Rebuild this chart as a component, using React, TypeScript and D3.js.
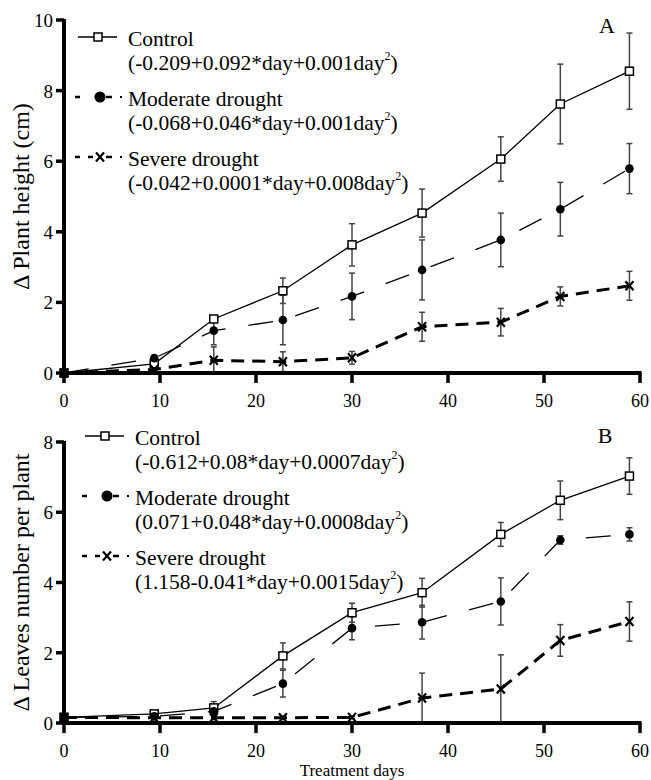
import React from "react";
import * as d3 from "d3";

const days = [0, 9.4, 15.6, 22.8, 30, 37.3, 45.5, 51.7, 58.9];

const heightControl = [0, 0.26, 1.53, 2.33, 3.63, 4.53, 6.06, 7.62, 8.55];
const heightControlErr = [0, 0.05, 0.06, 0.36, 0.6, 0.68, 0.63, 1.13, 1.08];
const heightModerate = [0, 0.42, 1.2, 1.5, 2.17, 2.92, 3.77, 4.64, 5.79];
const heightModerateErr = [0, 0.08, 0.4, 0.7, 0.66, 0.85, 0.76, 0.76, 0.71];
const heightSevere = [0, 0.1, 0.36, 0.32, 0.43, 1.31, 1.44, 2.17, 2.47];
const heightSevereErr = [0, 0.03, 0.38, 0.28, 0.18, 0.41, 0.39, 0.27, 0.41];

const leavesControl = [0.16, 0.26, 0.43, 1.91, 3.14, 3.71, 5.37, 6.34, 7.03];
const leavesControlErr = [0, 0.08, 0.18, 0.37, 0.27, 0.41, 0.34, 0.55, 0.52];
const leavesModerate = [0.16, 0.19, 0.33, 1.12, 2.7, 2.87, 3.46, 5.21, 5.37];
const leavesModerateErr = [0, 0.05, 0.1, 0.38, 0.33, 0.48, 0.67, 0.12, 0.19];
const leavesSevere = [0.16, 0.15, 0.15, 0.15, 0.16, 0.71, 0.97, 2.35, 2.89];
const leavesSevereErr = [0, 0, 0.05, 0.05, 0.03, 0.71, 0.97, 0.45, 0.56];

const xTicks = [0, 10, 20, 30, 40, 50, 60];
const heightTicks = [0, 2, 4, 6, 8, 10];
const leavesTicks = [0, 2, 4, 6, 8];

const seriesNames = ["Control", "Moderate drought", "Severe drought"];
const heightFormulas = [
  ["(-0.209+0.092*day+0.001day", ")"],
  ["(-0.068+0.046*day+0.001day", ")"],
  ["(-0.042+0.0001*day+0.008day", ")"],
];
const leavesFormulas = [
  ["(-0.612+0.08*day+0.0007day", ")"],
  ["(0.071+0.048*day+0.0008day", ")"],
  ["(1.158-0.041*day+0.0015day", ")"],
];

const FONT = "Liberation Serif, Times New Roman, serif";
const T = { fontFamily: FONT };

type Series = { kind: "control" | "moderate" | "severe"; values: number[]; err: number[] };

function Marker({ kind, x, y }: { kind: string; x: number; y: number }) {
  if (kind === "control")
    return <rect x={x - 4} y={y - 4} width={8} height={8} fill="white" stroke="black" strokeWidth={1.5} />;
  if (kind === "moderate") return <circle cx={x} cy={y} r={4.3} fill="black" />;
  return (
    <g stroke="black" strokeWidth={2.2}>
      <line x1={x - 4} y1={y - 4.5} x2={x + 4} y2={y + 4.5} />
      <line x1={x - 4} y1={y + 4.5} x2={x + 4} y2={y - 4.5} />
    </g>
  );
}

const lineStyle: Record<string, any> = {
  control: { strokeWidth: 1.3, dash: undefined },
  moderate: { strokeWidth: 1.3, dash: "25 23" },
  severe: { strokeWidth: 3, dash: "13 8" },
};

function LegendSymbol({ kind, x, y }: { kind: string; x: number; y: number }) {
  if (kind === "control")
    return (
      <g>
        <line x1={x} y1={y} x2={x + 39} y2={y} stroke="black" strokeWidth={1.3} />
        <Marker kind="control" x={x + 20} y={y} />
      </g>
    );
  if (kind === "moderate")
    return (
      <g stroke="black" strokeWidth={2.5}>
        <line x1={x - 3} y1={y} x2={x + 2} y2={y} />
        <Marker kind="moderate" x={x + 22} y={y} />
        <line x1={x + 28} y1={y} x2={x + 34} y2={y} />
        <line x1={x + 42} y1={y} x2={x + 44} y2={y} strokeWidth={2} />
      </g>
    );
  return (
    <g stroke="black" strokeWidth={2.5}>
      <line x1={x - 3} y1={y} x2={x + 2} y2={y} />
      <line x1={x + 10} y1={y} x2={x + 15} y2={y} />
      <Marker kind="severe" x={x + 22} y={y} />
      <line x1={x + 28} y1={y} x2={x + 34} y2={y} />
      <line x1={x + 42} y1={y} x2={x + 44} y2={y} strokeWidth={2} />
    </g>
  );
}

function Panel({
  series,
  yMax,
  yTicks,
  yTop,
  yBottom,
  yTitle,
  label,
  labelX,
  labelY,
  formulas,
  legendX,
  legendY,
  showXTitle,
}: {
  series: Series[];
  yMax: number;
  yTicks: number[];
  yTop: number;
  yBottom: number;
  yTitle: string;
  label: string;
  labelX: number;
  labelY: number;
  formulas: string[][];
  legendX: number;
  legendY: number;
  showXTitle: boolean;
}) {
  const x = d3.scaleLinear().domain([0, 60]).range([64, 640]);
  const y = d3.scaleLinear().domain([0, yMax]).range([yBottom, yTop]);
  const line = d3
    .line<number>()
    .x((_, i) => x(days[i]))
    .y((v) => y(v));
  return (
    <g style={T}>
      {series.map((s) =>
        s.values.map((v, i) =>
          s.err[i] > 0 ? (
            <g key={s.kind + "e" + i} stroke="#444" strokeWidth={1.5}>
              <line x1={x(days[i])} x2={x(days[i])} y1={y(v + s.err[i])} y2={y(Math.max(0, v - s.err[i]))} />
              <line x1={x(days[i]) - 3} x2={x(days[i]) + 3} y1={y(v + s.err[i])} y2={y(v + s.err[i])} />
              <line
                x1={x(days[i]) - 3}
                x2={x(days[i]) + 3}
                y1={y(Math.max(0, v - s.err[i]))}
                y2={y(Math.max(0, v - s.err[i]))}
              />
            </g>
          ) : null
        )
      )}
      {series.map((s) => (
        <path
          key={s.kind}
          d={line(s.values) || ""}
          fill="none"
          stroke="black"
          strokeWidth={lineStyle[s.kind].strokeWidth}
          strokeDasharray={lineStyle[s.kind].dash}
        />
      ))}
      {series.map((s) =>
        s.values.map((v, i) => <Marker key={s.kind + "m" + i} kind={s.kind} x={x(days[i])} y={y(v)} />)
      )}
      <line x1={x(0)} x2={x(60) + 1.5} y1={y(0)} y2={y(0)} stroke="black" strokeWidth={4} />
      <line x1={x(0)} x2={x(0)} y1={y(0) + 2} y2={y(yMax) - 1} stroke="black" strokeWidth={4} />
      {xTicks.map((t) => (
        <g key={"xt" + t}>
          <line x1={x(t)} x2={x(t)} y1={y(0)} y2={y(0) + 10} stroke="black" strokeWidth={3.5} />
          <text x={x(t)} y={y(0) + 34} textAnchor="middle" fontSize={18} style={T}>
            {t}
          </text>
        </g>
      ))}
      {yTicks.map((t) => (
        <g key={"yt" + t}>
          <line x1={x(0) - 8} x2={x(0)} y1={y(t)} y2={y(t)} stroke="black" strokeWidth={3.5} />
          <text x={x(0) - 11} y={y(t) + 7} textAnchor="end" fontSize={19} style={T}>
            {t}
          </text>
        </g>
      ))}
      <text
        transform={`translate(29, ${(yTop + yBottom) / 2}) rotate(-90)`}
        textAnchor="middle"
        fontSize={24}
        style={T}
      >
        {yTitle}
      </text>
      {showXTitle && (
        <text x={352} y={776} textAnchor="middle" fontSize={17} style={T}>
          Treatment days
        </text>
      )}
      <text x={labelX} y={labelY} textAnchor="middle" fontSize={22} style={T}>
        {label}
      </text>
      {series.map((s, i) => {
        const by = legendY + i * 60;
        return (
          <g key={"lg" + i}>
            <LegendSymbol kind={s.kind} x={legendX} y={by - 9} />
            <text x={legendX + 50} y={by} fontSize={21.5} style={T}>
              {seriesNames[i]}
            </text>
            <text x={legendX + 50} y={by + 24} fontSize={21.5} style={T}>
              {formulas[i][0]}
              <tspan fontSize={12} dy={-10}>
                2
              </tspan>
              <tspan dy={10}>{formulas[i][1]}</tspan>
            </text>
          </g>
        );
      })}
    </g>
  );
}

export default function App() {
  const top: Series[] = [
    { kind: "control", values: heightControl, err: heightControlErr },
    { kind: "moderate", values: heightModerate, err: heightModerateErr },
    { kind: "severe", values: heightSevere, err: heightSevereErr },
  ];
  const bottom: Series[] = [
    { kind: "control", values: leavesControl, err: leavesControlErr },
    { kind: "moderate", values: leavesModerate, err: leavesModerateErr },
    { kind: "severe", values: leavesSevere, err: leavesSevereErr },
  ];
  return (
    <svg
      width={651}
      height={780}
      style={{ position: "absolute", left: 0, top: 0, background: "white", fontFamily: FONT }}
    >
      <rect width={651} height={780} fill="white" />
      <Panel
        series={top}
        yMax={10}
        yTicks={heightTicks}
        yTop={20}
        yBottom={373}
        yTitle="Δ Plant height (cm)"
        label="A"
        labelX={607}
        labelY={33}
        formulas={heightFormulas}
        legendX={78}
        legendY={46}
        showXTitle={false}
      />
      <Panel
        series={bottom}
        yMax={8}
        yTicks={leavesTicks}
        yTop={442}
        yBottom={723}
        yTitle="Δ Leaves number per plant"
        label="B"
        labelX={605}
        labelY={443}
        formulas={leavesFormulas}
        legendX={85}
        legendY={445}
        showXTitle={true}
      />
    </svg>
  );
}
